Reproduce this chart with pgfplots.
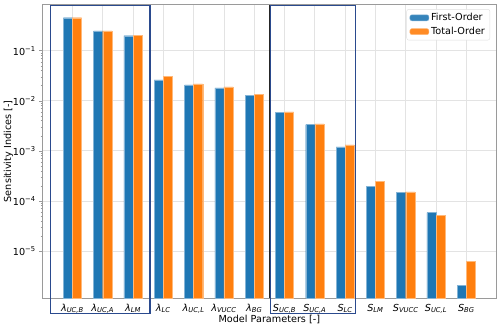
\documentclass[border=0pt]{standalone}
\usepackage{fontspec}
\setmainfont{DejaVu Sans}
\usepackage{pgfplots}
\pgfplotsset{compat=1.18}
\definecolor{mplBlue}{HTML}{1F77B4}
\definecolor{mplOrange}{HTML}{FF7F0E}
\definecolor{boxBlue}{HTML}{2A4A8E}
\definecolor{gridGray}{HTML}{E3E3E3}
\definecolor{frameGray}{HTML}{9A9A9A}

\pgfplotstableread{
x first total
0 0.458 0.458
1 0.251 0.251
2 0.200 0.203
3 0.0263 0.0306
4 0.0209 0.0219
5 0.0182 0.0191
6 0.0130 0.0136
7 0.00583 0.00603
8 0.00336 0.00347
9 0.00120 0.00132
10 1.97e-4 2.43e-4
11 1.47e-4 1.51e-4
12 5.83e-5 5.08e-5
13 2.06e-6 6.3e-6
}\sidata

\newcommand{\lam}[1]{{\itshape λ\textsubscript{#1}}}
\newcommand{\ess}[1]{{\itshape S\textsubscript{#1}}}
\newcommand{\chartfont}{\fontsize{9.7}{11}\selectfont}

\begin{document}
\begin{tikzpicture}[font=\chartfont]
\begin{axis}[
  scale only axis, width=453bp, height=293bp,
  ymode=log, log origin=infty, ymin=1.15e-6, ymax=0.83,
  xmin=-0.98, xmax=13.98,
  ybar=0pt, bar width=0.3,
  clip=false,
  axis line style={frameGray, line width=0.8pt},
  xtick={0,...,13},
  xticklabels={\lam{UC,B},\lam{UC,A},\lam{LM},\lam{LC},\lam{UC,L},\lam{VUCC},\lam{BG},
    \ess{UC,B},\ess{UC,A},\ess{LC},\ess{LM},\ess{VUCC},\ess{UC,L},\ess{BG}},
  ytick={1e-5,1e-4,1e-3,1e-2,1e-1},
  yticklabels={10\textsuperscript{−5},10\textsuperscript{−4},10\textsuperscript{−3},10\textsuperscript{−2},10\textsuperscript{−1}},
  tick label style={font=\chartfont},
  label style={font=\chartfont},
  ytick pos=left,
  tick align=outside, major tick length=3.5bp, minor tick length=2bp,
  tick style={frameGray, line width=0.6pt},
  xtick style={draw=none},
  x tick label style={yshift=1bp},
  xmajorgrids, ymajorgrids, yminorgrids=false,
  major grid style={gridGray, line width=0.8pt},
  xlabel={Model Parameters [-]},
  ylabel={Sensitivity Indices [-]},
  xlabel style={yshift=5bp},
  ylabel style={yshift=-7bp},
  legend style={at={(0.987,0.985)}, anchor=north east, draw=gray!25, rounded corners=2pt,
    fill=white, fill opacity=0.9, text opacity=1, font=\chartfont,
    inner xsep=3bp, inner ysep=2bp, row sep=1bp},
  legend cell align=left,
  area legend,
  legend image code/.code={\fill[#1] (0bp,-3bp) rectangle (19bp,3bp);},
]
\addplot[fill=mplBlue, draw=mplBlue!55!white, line width=0.4pt] table[x=x,y=first]{\sidata};
\addlegendentry{First-Order}
\addplot[fill=mplOrange, draw=mplOrange!55!white, line width=0.4pt] table[x=x,y=total]{\sidata};
\addlegendentry{Total-Order}

\draw[black!85, line width=1.4pt] ({axis cs:6.5,1e-3}|-{rel axis cs:0,0}) -- ({axis cs:6.5,1e-3}|-{rel axis cs:0,1});
\draw[boxBlue, line width=1.2pt] ({axis cs:-0.72,1e-3}|-{rel axis cs:0,-0.053}) rectangle ({axis cs:2.56,1e-3}|-{rel axis cs:0,0.997});
\draw[boxBlue, line width=1.2pt] ({axis cs:6.53,1e-3}|-{rel axis cs:0,-0.053}) rectangle ({axis cs:9.35,1e-3}|-{rel axis cs:0,0.997});
\end{axis}
\pgfresetboundingbox
\path (current axis.south west) ++(-42.7bp,-30.3bp) coordinate (bbsw);
\path (current axis.north east) ++(4bp,4.8bp) coordinate (bbne);
\path[use as bounding box] (bbsw) rectangle (bbne);
\end{tikzpicture}
\end{document}
